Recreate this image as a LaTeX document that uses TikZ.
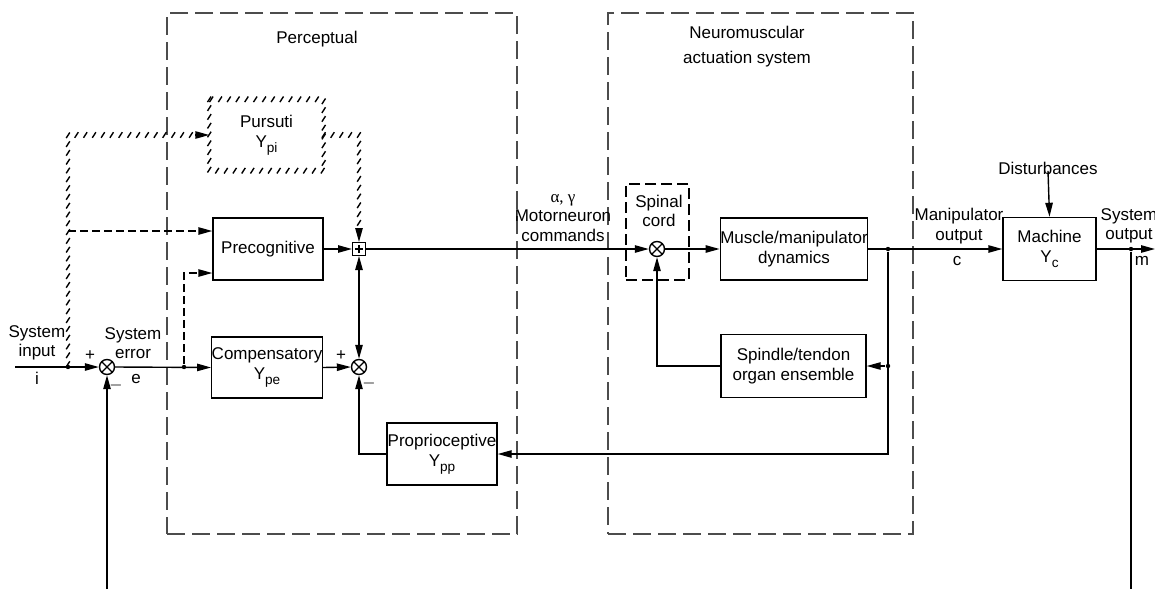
\documentclass[tikz,border=0pt]{standalone}
\usepackage{fontspec}
\setmainfont{Liberation Sans}
\newfontfamily\greekserif{Liberation Serif}
\usetikzlibrary{arrows.meta,decorations.markings,calc}

% lowered, smaller subscript for transfer-function names
\newcommand\lowsub[1]{\raisebox{-0.55ex}{\fontsize{6.8}{7}\selectfont #1}}

\begin{document}
\begin{tikzpicture}[x=0.5pt,y=-0.5pt,
  font=\fontsize{8.5}{9.8}\selectfont,
  line width=0.7pt,
  >={Triangle[length=7pt,width=3.7pt]},
  blk/.style={draw, rectangle, align=center, inner sep=0pt},
  frame/.style={draw=black!70, rectangle, dash pattern=on 9pt off 3.5pt},
  dsh/.style={dash pattern=on 4pt off 2pt},
  dot/.style={circle, fill, inner sep=0pt, minimum size=2.2pt},
  lbl/.style={align=center, inner sep=0pt},
  sumx/.style={circle, draw, fill=white, minimum size=7.5pt, inner sep=0pt,
    path picture={\draw[line width=0.6pt]
      (path picture bounding box.north west) -- (path picture bounding box.south east)
      (path picture bounding box.north east) -- (path picture bounding box.south west);}},
  sumsq/.style={rectangle, draw, fill=white, minimum size=6.3pt, inner sep=0pt,
    path picture={\draw[line width=0.55pt]
      ([xshift=-2.1pt]path picture bounding box.center) -- ([xshift=2.1pt]path picture bounding box.center)
      ([yshift=-2.1pt]path picture bounding box.center) -- ([yshift=2.1pt]path picture bounding box.center);}},
  hatch/.style={decoration={markings,
      mark=between positions 0 and 1 step 4.4pt with {\pgftransformresetnontranslations
        \draw[line width=0.7pt] (-0.9pt,-1.4pt) -- (0.9pt,1.4pt);}},
    decorate}
]
\useasboundingbox (0,0) rectangle (1155,589);

% region frames
\node[frame, minimum width=175pt, minimum height=260.5pt] (perc) at (342,273.5) {};
\node[frame, minimum width=152.5pt, minimum height=260.5pt] (neuro) at (760.5,273.5) {};
\node[lbl] (percl) at (317,39) {Perceptual};
\node[lbl] (neurol) at (747,47) {Neuromuscular\\[2.6pt]actuation system};

% blocks
\node[align=center, inner sep=0pt, minimum width=56.5pt, minimum height=35pt] (pur) at (266.5,135) {Pursuti\\Y\lowsub{pi}};
\path[hatch] (pur.north west) rectangle (pur.south east);
\node[blk, minimum width=55pt, minimum height=31pt] (pre) at (268,249) {Precognitive};
\node[blk, minimum width=55pt, minimum height=30.5pt] (comp) at (267,367.5) {Compensatory\\Y\lowsub{pe}};
\node[blk, minimum width=55pt, minimum height=31pt] (prop) at (442,454) {Proprioceptive\\Y\lowsub{pp}};
\node[draw, rectangle, dash pattern=on 5.5pt off 2.5pt, minimum width=31.5pt, minimum height=48pt] (spinal) at (657.5,232) {};
\node[lbl] (spinall) at (659,211) {Spinal\\cord};
\node[blk, minimum width=73pt, minimum height=31pt] (muscle) at (794,249) {Muscle/manipulator\\dynamics};
\node[blk, minimum width=72.5pt, minimum height=31.5pt] (spindle) at (793.5,366) {Spindle/tendon\\organ ensemble};
\node[blk, minimum width=46.5pt, minimum height=31.5pt] (machine) at (1049.5,249) {Machine\\Y\lowsub{c}};

% junctions
\node[sumx] (s1) at (107,367) {};
\node[sumx] (s2) at (359,367) {};
\node[sumsq] (sq) at (359,249) {};
\node[sumx] (s3) at (657,249) {};

% branch points and free ends
\node[dot] (d1) at (68,367) {};
\node[dot] (d2) at (184,367) {};
\node[dot] (d3) at (888,249) {};
\node[dot] (d4) at (888,366) {};
\node[dot] (d5) at (1131,249) {};
\coordinate (inp) at (15,367);
\coordinate (fb) at (107,589);
\coordinate (mend) at (1131,589);
\coordinate (outp) at (1155,249);
\coordinate (h1) at (68,231);

% forward path
\draw[->] (inp) -- (s1.west);
\draw[->] (s1.east) -- (comp.west);
\draw[->] (fb) -- (s1.south);
\draw[->] (comp.east) -- (s2.west);
\draw[->] (pre.east) -- (sq.west);
\draw[<->] (s2.north) -- (sq.south);
\draw[->] (sq.east) -- (s3.west);
\draw[->] (s3.east) -- (muscle.west);
\draw[->] (muscle.east) -- (machine.west);
\draw[->] (machine.east) -- (outp);
\draw (d5) -- (mend);

% pursuit channel
\path[hatch] (d1) |- ([xshift=-6pt]pur.west);
\draw[->] ([xshift=-7pt]pur.west) -- (pur.west);
\path[hatch] (pur.east) -| ([yshift=6pt]sq.north);
\draw[->] ([yshift=7pt]sq.north) -- (sq.north);

% precognitive inputs
\draw[dsh,->] (h1) -- (h1 -| pre.west);
\draw[dsh,->] (d2) |- ([yshift=-12pt]pre.west);

% feedback loops
\draw[->] (d3) |- (prop.east);
\draw[->] (d4) -- (spindle.east);
\draw[->] (spindle.west) -| (s3.south);
\draw[->] (prop.west) -| (s2.south);

% disturbance input
\node[lbl] (dist) at (1048,168) {Disturbances};
\draw[->] (dist.south) ++(0,-4) -- (machine.north);

% signal labels
\node[lbl] at (37,343) {System\\input};
\node[lbl] at (37,378) {i};
\node[lbl] at (133,343) {System\\error};
\node[lbl] at (136,379) {e};
\node[lbl] at (90,356) {+};
\node[lbl] at (116,385) {$-$};
\node[lbl] at (341,356) {+};
\node[lbl] at (369,383) {$-$};
\node[lbl] at (563,218) {{\greekserif α, γ}\\Motorneuron\\commands};
\node[lbl] at (959,226) {Manipulator\\output};
\node[lbl] at (957,261) {c};
\node[lbl] at (1129,226) {System\\output};
\node[lbl] at (1142,261) {m};
\end{tikzpicture}
\end{document}
